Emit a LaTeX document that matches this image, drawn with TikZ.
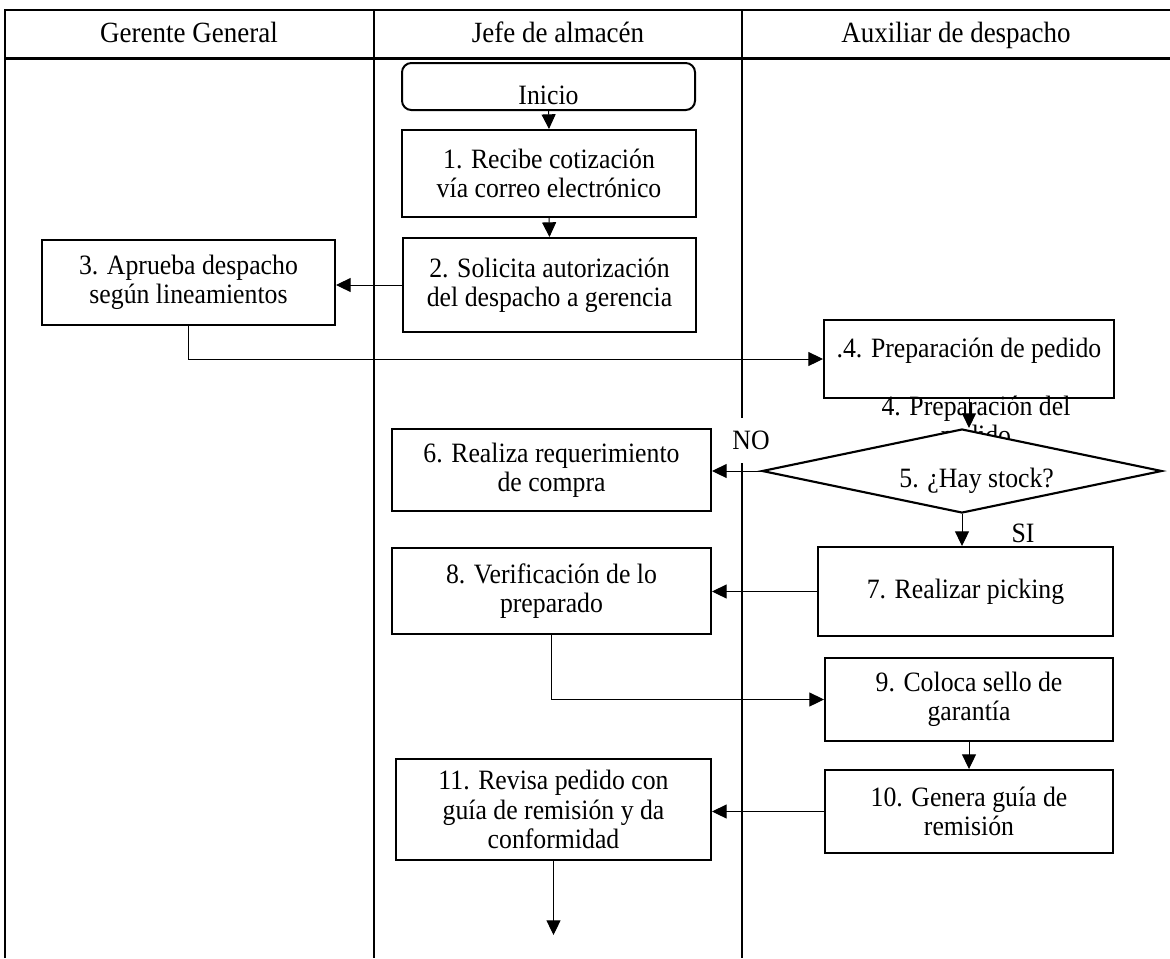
\documentclass[tikz,border=0pt]{standalone}
\usepackage{fontspec}
\setmainfont[FakeStretch=0.92]{Liberation Serif}
\usetikzlibrary{arrows.meta,shapes.geometric}
\begin{document}
\begin{tikzpicture}[x=0.75pt,y=-0.75pt,
  every node/.style={font=\fontsize{21}{22}\selectfont},
  lane/.style={line width=2.2pt},
  procbox/.style={draw,line width=1.5pt,fill=white,align=center,inner sep=0pt},
  startbox/.style={procbox,rounded corners=7pt},
  conn/.style={line width=0.75pt},
  arr/.style={conn,-{Triangle[length=11pt,width=10.5pt]}},
  lanetitle/.style={font=\fontsize{22}{24}\selectfont,anchor=base}]
\useasboundingbox (0,0) rectangle (1170,958);

% swimlane frame
\draw[lane] (5,958) -- (5,10) -- (1170,10);
\draw[lane] (5,58.5) -- (1170,58.5);
\draw[lane] (374,10) -- (374,958);
\draw[lane] (742,10) -- (742,958);

\node[lanetitle] (h1) at (189,42) {Gerente General};
\node[lanetitle] (h2) at (558,42) {Jefe de almacén};
\node[lanetitle] (h3) at (956,42) {Auxiliar de despacho};

% process steps
\node[startbox,minimum width=219.75pt,minimum height=35.25pt,
  label={[yshift=-7pt]center:Inicio}] (inicio) at (548.5,86.5) {};
\node[procbox,minimum width=220.5pt,minimum height=65.25pt] (b1) at (549,173.5)
  {1. Recibe cotización\\vía correo electrónico};
\node[procbox,minimum width=219.75pt,minimum height=70.5pt] (b2) at (549.5,285)
  {2. Solicita autorización\\del despacho a gerencia};
\node[procbox,minimum width=219.75pt,minimum height=63.75pt] (b3) at (188.5,282.5)
  {3. Aprueba despacho\\según lineamientos};
\node[procbox,minimum width=217.5pt,minimum height=58.5pt,
  label={[yshift=6pt]center:.4. Preparación de pedido}] (b4) at (969,359) {};

% caption left under step 4, partly hidden by the decision
\node[align=center] (b4note) at (976,423) {4. Preparación del\\pedido};

\node[diamond,draw,line width=1.6pt,fill=white,inner sep=0pt,
  minimum width=300pt,minimum height=63pt,
  label={[xshift=11pt,yshift=-7pt]center:5. ¿Hay stock?}] (dia) at (962,471) {};

\node[procbox,minimum width=239.25pt,minimum height=61.5pt] (b6) at (551.5,470)
  {6. Realiza requerimiento\\de compra};
\node[procbox,minimum width=221.25pt,minimum height=66.75pt] (b7) at (965.5,591.5)
  {7. Realizar picking};
\node[procbox,minimum width=239.25pt,minimum height=64.5pt] (b8) at (551.5,591)
  {8. Verificación de lo\\preparado};
\node[procbox,minimum width=216pt,minimum height=62.25pt] (b9) at (969,699.5)
  {9. Coloca sello de\\garantía};
\node[procbox,minimum width=216pt,minimum height=62.25pt] (b10) at (969,811.5)
  {10. Genera guía de\\remisión};
\node[procbox,minimum width=236.25pt,minimum height=75.75pt] (b11) at (553.5,809.5)
  {11. Revisa pedido con\\guía de remisión y da\\conformidad};

% branch labels
\node[fill=white,inner sep=2pt,minimum height=33.75pt] (no) at (751,440.5) {NO};
\node (si) at (1023,533) {SI};

\coordinate (fin) at (556,935);

% connectors
\draw[arr] (inicio.south) -- (b1.north);
\draw[arr] (b1.south) -- (b2.north);
\draw[arr] (b2.west) -- (b2.west -| b3.east);
\draw[arr] (b3.south) |- (b4.west);
\draw[arr] (b4.south) -- (b4.south |- dia.north);
\draw[arr] (dia.west) -- (dia.west -| b6.east);
\draw[arr] (dia.south) -- (dia.south |- b7.north);
\draw[arr] (b7.west) -- (b7.west -| b8.east);
\draw[arr] (b8.south) |- (b9.west);
\draw[arr] (b9.south) -- (b10.north);
\draw[arr] (b10.west) -- (b10.west -| b11.east);
\draw[arr] (b11.south) -- (b11.south |- fin);
\end{tikzpicture}
\end{document}
